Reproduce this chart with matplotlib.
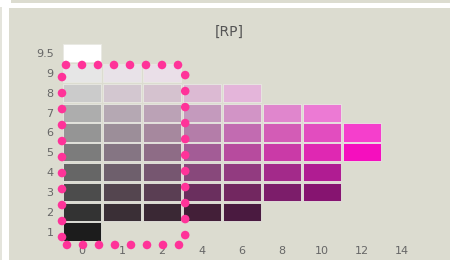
import numpy as np
import matplotlib
matplotlib.use("Agg")
import matplotlib.pyplot as plt
from matplotlib.patches import Rectangle

# chroma columns (x) and value rows (y) of the 5RP page
chroma_labels = [0, 1, 2, 4, 6, 8, 10, 12, 14]
value_labels = ["1", "2", "3", "4", "5", "6", "7", "8", "9", "9.5"]
value_pos = [1, 2, 3, 4, 5, 6, 7, 8, 9, 10]

# colours of each row, starting at chroma 0
row_95 = ["#FFFFFF"]
row_9 = ["#E6E6E6", "#E8E2E8", "#EADFE8"]
row_8 = ["#CBCBCB", "#D3C7D0", "#D5C2CF", "#DCBAD3", "#E4B5DA"]
row_7 = ["#ADADAD", "#B5A8B3", "#BBA2B6", "#C49ABD", "#D294C6", "#E086CD", "#EC7AD4"]
row_6 = ["#959595", "#9C8E99", "#A6889E", "#B47DA9", "#C26BB1", "#D35CB6", "#E24DBF", "#F53FCC"]
row_5 = ["#7C7C7C", "#857583", "#8E6C86", "#A35C96", "#B74B9E", "#CA3AA7", "#DF28B2", "#F50FBE"]
row_4 = ["#666666", "#6E5F6C", "#765670", "#88487B", "#923B80", "#A32A8A", "#B01C92"]
row_3 = ["#4C4C4C", "#54454F", "#5A3E53", "#6A2F5E", "#722760", "#7C1D6A", "#861470"]
row_2 = ["#333333", "#3A2F36", "#3A2834", "#431F38", "#4A1A40"]
row_1 = ["#1C1C1C"]
rows = [row_1, row_2, row_3, row_4, row_5, row_6, row_7, row_8, row_9, row_95]

# highlighted block: chroma 0-2, value 1-9
hl_x0, hl_x1 = -0.5, 2.58
hl_y0, hl_y1 = 0.32, 9.41

fig = plt.figure(figsize=(4.5, 2.6), dpi=100, facecolor="white")

# page background
bg = "#DCDCD0"
fig.patches.append(Rectangle((9 / 450, 0), 441 / 450, 252 / 260, transform=fig.transFigure,
                             facecolor=bg, edgecolor="none", zorder=-5))
fig.patches.append(Rectangle((11 / 450, 257 / 260), 439 / 450, 3 / 260, transform=fig.transFigure,
                             facecolor=bg, edgecolor="none", zorder=-5))
fig.patches.append(Rectangle((0, 0), 1.5 / 450, 253 / 260, transform=fig.transFigure,
                             facecolor="#E4E4DC", edgecolor="none", zorder=-5))

ax = fig.add_axes([62 / 450, 18.6 / 260, 360 / 450, 198 / 260])
ax.set_facecolor("none")
ax.set_xlim(-0.5, 8.5)
ax.set_ylim(0.5, 10.5)

for y, colors in zip(value_pos, rows):
    for i, c in enumerate(colors):
        ax.add_patch(Rectangle((i - 0.475, y - 0.455), 0.95, 0.91, facecolor=c,
                               edgecolor="#E9E9E3", lw=0.6, zorder=2))

# dotted outline around the achromatic / low chroma block
dot_top_x = np.linspace(hl_x0 + 0.1, hl_x1 - 0.18, 8)
dot_bot_x = np.linspace(hl_x0 + 0.125, hl_x1 - 0.155, 8)
dot_left_y = np.linspace(hl_y1 - 0.61, hl_y0 + 0.4, 11)
dot_right_y = np.linspace(hl_y1 - 0.51, hl_y0 + 0.5, 11)
dx = np.concatenate([dot_top_x, dot_bot_x, np.full(11, hl_x0), np.full(11, hl_x1)])
dy = np.concatenate([np.full(8, hl_y1), np.full(8, hl_y0), dot_left_y, dot_right_y])
ax.scatter(dx, dy, s=38, color="#FF3399", edgecolors="none", zorder=5, clip_on=False)

ax.set_xticks(range(len(chroma_labels)))
ax.set_xticklabels([str(c) for c in chroma_labels])
ax.set_yticks(value_pos)
ax.set_yticklabels(value_labels)
ax.tick_params(axis="both", length=0, labelsize=8, labelcolor="#666666")
ax.tick_params(axis="x", pad=3)
ax.tick_params(axis="y", pad=6)
for s in ax.spines.values():
    s.set_visible(False)

fig.text(229 / 450, 1 - 32 / 260, "[RP]", ha="center", va="center", fontsize=10, color="#555555")

fig.savefig("out.png", dpi=100, facecolor="white")
